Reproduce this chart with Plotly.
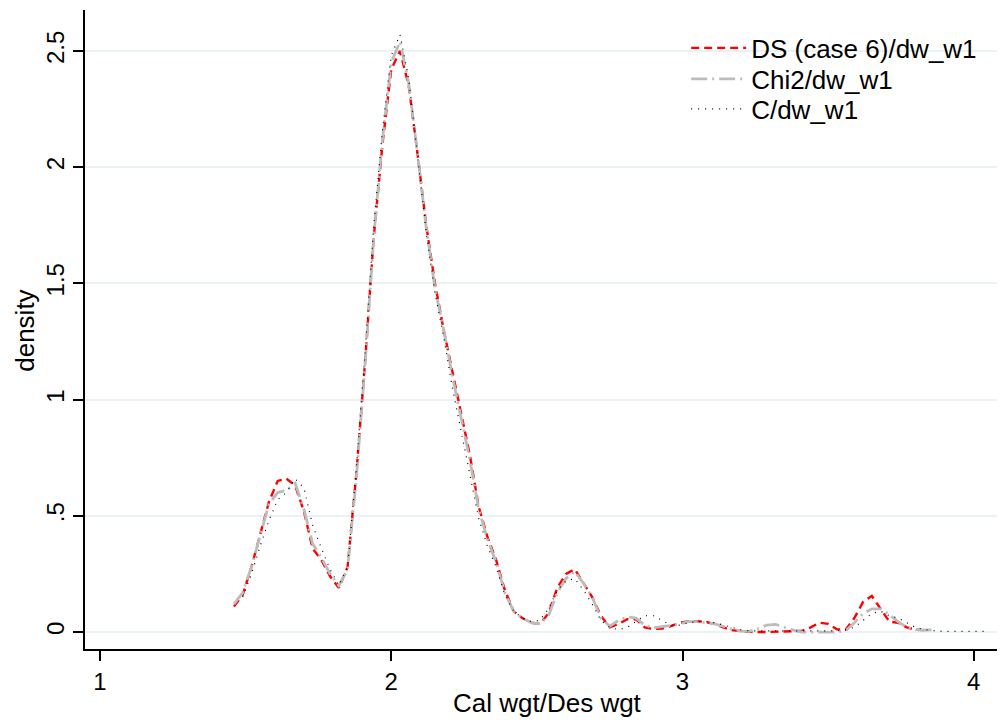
import plotly.graph_objects as go

x_grid = [round(1.46 + 0.03 * i, 2) for i in range(87)]

ds_case6 = [0.11, 0.16, 0.28, 0.42, 0.56, 0.65, 0.66, 0.63, 0.52, 0.36,
            0.31, 0.24, 0.19, 0.28, 0.68, 1.16, 1.70, 2.10, 2.42, 2.50,
            2.35, 2.06, 1.75, 1.50, 1.30, 1.12, 0.94, 0.76, 0.54, 0.41,
            0.31, 0.18, 0.09, 0.06, 0.04, 0.035, 0.08, 0.19, 0.25, 0.27,
            0.21, 0.15, 0.07, 0.02, 0.035, 0.055, 0.055, 0.02, 0.013, 0.015,
            0.025, 0.04, 0.045, 0.047, 0.043, 0.035, 0.02, 0.008, 0.003, 0.0,
            0.0, 0.0, 0.001, 0.002, 0.002, 0.005, 0.02, 0.04, 0.035, 0.012,
            0.01, 0.06, 0.13, 0.155, 0.10, 0.045, 0.04, 0.02, 0.01, 0.008,
            None, None, None, None, None, None, None]

chi2 = [0.12, 0.17, 0.28, 0.42, 0.55, 0.60, 0.61, 0.64, 0.53, 0.38,
        0.32, 0.25, 0.20, 0.27, 0.66, 1.15, 1.70, 2.12, 2.45, 2.54,
        2.36, 2.06, 1.74, 1.48, 1.30, 1.10, 0.92, 0.74, 0.53, 0.40,
        0.30, 0.17, 0.09, 0.06, 0.04, 0.035, 0.07, 0.17, 0.23, 0.26,
        0.21, 0.15, 0.06, 0.025, 0.05, 0.065, 0.06, 0.03, 0.018, 0.022,
        0.028, 0.035, 0.045, 0.045, 0.04, 0.035, 0.025, 0.012, 0.004, 0.003,
        0.015, 0.03, 0.033, 0.02, 0.008, 0.0, 0.0, 0.0, 0.0, 0.0,
        0.005, 0.04, 0.08, 0.10, 0.10, 0.075, 0.045, 0.02, 0.01, 0.008,
        0.01, None, None, None, None, None, None]

c_dw = [None, 0.15, 0.25, 0.37, 0.48, 0.57, 0.60, 0.66, 0.62, 0.46,
        0.36, 0.27, 0.20, 0.28, 0.70, 1.20, 1.75, 2.16, 2.48, 2.57,
        2.38, 2.05, 1.72, 1.46, 1.27, 1.05, 0.86, 0.68, 0.49, 0.37,
        0.28, 0.16, 0.09, 0.06, 0.045, 0.05, 0.10, 0.18, 0.22, 0.23,
        0.18, 0.12, 0.05, 0.02, 0.01, 0.02, 0.045, 0.07, 0.07, 0.05,
        0.03, 0.03, 0.04, 0.045, 0.045, 0.04, 0.03, 0.02, 0.01, 0.005,
        0.005, 0.005, 0.005, 0.005, 0.005, 0.005, 0.005, 0.005, 0.005, 0.005,
        0.01, 0.02, 0.05, 0.08, 0.09, 0.07, 0.06, 0.04, 0.02, 0.01,
        0.005, 0.003, 0.003, 0.003, 0.003, 0.003, 0.003]

x_ticks = [1, 2, 3, 4]
x_tick_labels = ["1", "2", "3", "4"]
y_ticks = [0, 0.5, 1, 1.5, 2, 2.5]
y_tick_labels = ["0", ".5", "1", "1.5", "2", "2.5"]

FONT = "Liberation Sans, Arial, sans-serif"

fig = go.Figure()
fig.add_trace(go.Scatter(x=x_grid, y=ds_case6, mode="lines", name="DS (case 6)/dw_w1",
                         line=dict(color="#ff0000", width=2.4, dash="8px,5px"),
                         connectgaps=False, legend="legend"))
fig.add_trace(go.Scatter(x=x_grid, y=chi2, mode="lines", name="Chi2/dw_w1",
                         line=dict(color="#bcbcbc", width=2.8, dash="16px,5px,2px,5px"),
                         connectgaps=False, legend="legend2"))
fig.add_trace(go.Scatter(x=x_grid, y=c_dw, mode="lines", name="C/dw_w1",
                         line=dict(color="#000000", width=1.2, dash="1px,6px"),
                         connectgaps=False, legend="legend3"))

leg_common = dict(x=0.657, xanchor="left", yanchor="middle",
                  bgcolor="rgba(255,255,255,0)", borderwidth=0,
                  font=dict(family=FONT, size=26, color="black"),
                  itemwidth=55)

fig.update_layout(
    width=997, height=717,
    margin=dict(l=77, r=5, t=2, b=76),
    paper_bgcolor="white", plot_bgcolor="white",
    font=dict(family=FONT, size=26, color="black"),
    showlegend=True,
    legend=dict(y=0.9405, **leg_common),
    legend2=dict(y=0.892, **leg_common),
    legend3=dict(y=0.845, **leg_common),
    xaxis=dict(range=[0.9485, 4.09], tickvals=x_ticks, ticktext=x_tick_labels,
               showgrid=False, zeroline=False, showline=True, linecolor="black",
               linewidth=1.5, ticks="outside", ticklen=10, tickcolor="black",
               tickwidth=1.5, automargin=False,
               tickfont=dict(size=24)),
    yaxis=dict(range=[-0.073, 2.676], tickvals=y_ticks, ticktext=y_tick_labels,
               showgrid=True, gridcolor="#eaf2f3", gridwidth=1.5,
               zeroline=False, showline=True, linecolor="black", linewidth=1.5,
               ticks="outside", ticklen=10, tickcolor="black", tickwidth=1.5,
               tickangle=-90, automargin=False,
               tickfont=dict(size=24)),
    annotations=[
        dict(text="Cal wgt/Des wgt", xref="paper", yref="paper", x=0.506, y=0,
             xanchor="center", yanchor="middle", yshift=-54, showarrow=False,
             font=dict(family=FONT, size=26, color="black")),
        dict(text="density", xref="paper", yref="paper", x=0, y=0.498,
             xanchor="center", yanchor="middle", xshift=-60, textangle=-90,
             showarrow=False, font=dict(family=FONT, size=26, color="black")),
    ],
)

fig.write_html("out.html")
